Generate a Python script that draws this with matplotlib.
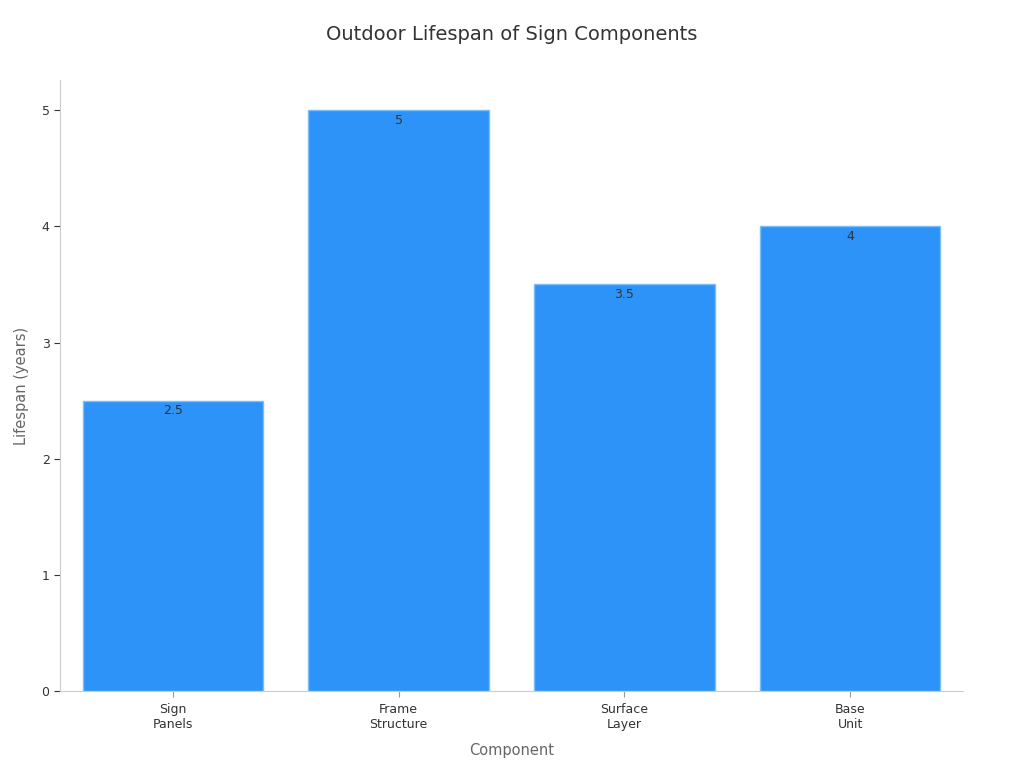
import matplotlib
matplotlib.use("Agg")
import matplotlib.pyplot as plt

# Data
components = ["Sign\nPanels", "Frame\nStructure", "Surface\nLayer", "Base\nUnit"]
lifespan_years = [2.5, 5, 3.5, 4]

fig = plt.figure(figsize=(10.24, 7.68), dpi=100)
ax = fig.add_axes([0.0586, 0.1003, 0.8818, 0.7955])

x = range(len(components))
bars = ax.bar(x, lifespan_years, width=0.8, color="#2E93F9",
              edgecolor="#7CBEF7", linewidth=1)

for b, v in zip(bars, lifespan_years):
    ax.text(b.get_x() + b.get_width() / 2, v - 0.03, f"{v:g}",
            ha="center", va="top", fontsize=9, color="#333333")

ax.set_xlim(-0.5, 3.5)
ax.set_ylim(0, 5.26)
ax.set_xticks(list(x))
ax.set_xticklabels(components, fontsize=9, color="#333333")
ax.set_yticks([0, 1, 2, 3, 4, 5])
ax.tick_params(axis="y", labelsize=9, colors="#333333", length=4)
ax.tick_params(axis="x", length=4, color="#999999", pad=4.5)

for s in ["top", "right"]:
    ax.spines[s].set_visible(False)
for s in ["left", "bottom"]:
    ax.spines[s].set_color("#cccccc")

ax.set_xlabel("Component", fontsize=10.5, color="#666666", labelpad=9)
ax.set_ylabel("Lifespan (years)", fontsize=10.5, color="#666666", labelpad=9)
fig.suptitle("Outdoor Lifespan of Sign Components", fontsize=14,
             color="#333333", y=0.967)

fig.savefig("out.png", dpi=100)
